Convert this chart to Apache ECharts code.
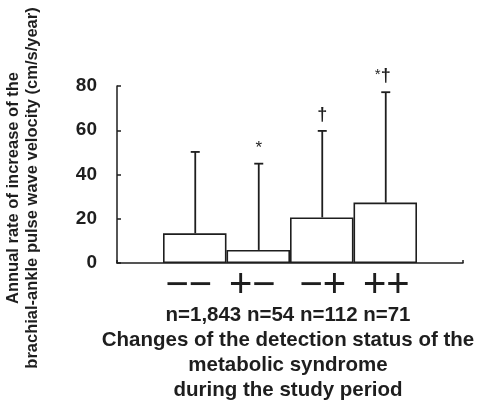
<!DOCTYPE html>
<html><head><meta charset="utf-8">
<script src="https://cdn.jsdelivr.net/npm/echarts@6/dist/echarts.min.js"></script>
<style>html,body{margin:0;padding:0;background:#fff}#c{width:485px;height:404px}</style>
</head><body><div id="c"></div>
<script>
// ---- data ----
const categories = ['−−', '+−', '−+', '++'];
const meanValues = [13.4, 5.9, 20.6, 27.3];
const errorTops = [50.2, 44.9, 59.7, 77.2];
const significance = ['', '*', '†', '*†'];
const groupSizes = ['n=1,843', 'n=54', 'n=112', 'n=71'];
const yTickValues = [0, 20, 40, 60, 80];
const yTitleLines = ['Annual rate of increase of the', 'brachial-ankle pulse wave velocity (cm/s/year)'];
const xTitleLines = ['Changes of the detection status of the', 'metabolic syndrome', 'during the study period'];

// ---- chart ----
const FONT = 'Liberation Sans, Arial, sans-serif';
const INK = '#1e1e1e';
const chart = echarts.init(document.getElementById('c'), null, {renderer: 'canvas'});

const yMin = yTickValues[0], yMax = yTickValues[yTickValues.length - 1];
const yStep = yTickValues[1] - yTickValues[0];

const errData = categories.map((c, i) => [i, meanValues[i], errorTops[i]]);

chart.setOption({
  animation: false,
  backgroundColor: '#fff',
  grid: [
    {left: 117, right: 22, top: 86, bottom: 141, containLabel: false, outerBoundsMode: 'none'},
    {left: 163, right: 68, top: 86, bottom: 141, containLabel: false, outerBoundsMode: 'none'}
  ],
  xAxis: [
    {
      gridIndex: 0, type: 'value', min: 0, max: 1, interval: 1,
      axisLine: {show: true, lineStyle: {color: INK, width: 1.5}},
      axisTick: {show: true, inside: true, length: 3, lineStyle: {color: INK, width: 1.5}},
      axisLabel: {show: false}, splitLine: {show: false},
      name: [groupSizes.join(' ')].concat(xTitleLines).join('\n'),
      nameLocation: 'middle', nameGap: 39.5,
      nameTextStyle: {fontFamily: FONT, fontSize: 20.5, fontWeight: 'bold', lineHeight: 25, color: INK, padding: [0, 4, 0, 0]}
    },
    {
      gridIndex: 1, type: 'category', data: categories,
      axisLine: {show: false}, axisTick: {show: false}, splitLine: {show: false},
      axisLabel: {
        margin: 3, interval: 0,
        formatter: (v, i) => (i < 2 ? '{l|' + v + '}' : '{r|' + v + '}'),
        rich: {
          l: {fontFamily: FONT, fontSize: 40, color: INK, padding: [0, 12, 0, 0]},
          r: {fontFamily: FONT, fontSize: 40, color: INK, padding: [0, 0, 0, 2]}
        }
      }
    }
  ],
  yAxis: [
    {
      gridIndex: 0, type: 'value', min: yMin, max: yMax, interval: yStep,
      axisLine: {show: true, lineStyle: {color: INK, width: 1.5}},
      axisTick: {show: true, inside: true, length: 4, lineStyle: {color: INK, width: 1.5}},
      axisLabel: {fontFamily: FONT, fontSize: 19, fontWeight: 'bold', color: INK, margin: 20},
      splitLine: {show: false},
      name: yTitleLines.join('\n'), nameLocation: 'middle', nameRotate: 90, nameGap: 75.5,
      nameTextStyle: {fontFamily: FONT, fontSize: 16.5, fontWeight: 'bold', lineHeight: 19, color: INK, padding: [0, 27, 0, 0]}
    },
    {gridIndex: 1, type: 'value', min: yMin, max: yMax, show: false}
  ],
  series: [
    {
      type: 'bar', xAxisIndex: 1, yAxisIndex: 1, data: meanValues,
      barWidth: '100%', barCategoryGap: 0,
      itemStyle: {color: '#fff', borderColor: INK, borderWidth: 1.6},
      z: 2
    },
    {
      type: 'custom', xAxisIndex: 1, yAxisIndex: 1, data: errData, z: 3,
      renderItem: function (params, api) {
        const idx = api.value(0);
        const x = api.coord([idx, 0])[0] + 0.5;
        const yb = api.coord([idx, api.value(1)])[1];
        const yt = api.coord([idx, api.value(2)])[1];
        const half = 4.5;
        const mark = significance[params.dataIndex];
        const children = [
          {type: 'line', shape: {x1: x, y1: yb, x2: x, y2: yt}, style: {stroke: INK, lineWidth: 1.8}},
          {type: 'line', shape: {x1: x - half, y1: yt, x2: x + half, y2: yt}, style: {stroke: INK, lineWidth: 1.8}}
        ];
        if (mark) {
          let txt;
          if (mark === '*†') txt = '{s|*}{d|†}';
          else if (mark === '*') txt = '{s1|*}';
          else txt = '{d|†}';
          children.push({
            type: 'text', x: x - (mark === '*†' ? 3 : 0), y: yt - 7,
            style: {
              text: txt, align: 'center', verticalAlign: 'bottom',
              rich: {
                s: {fontFamily: FONT, fontSize: 15, fill: INK, color: INK, verticalAlign: 'top'},
                s1: {fontFamily: FONT, fontSize: 17, fill: INK, color: INK},
                d: {fontFamily: FONT, fontSize: 18, fontWeight: 'bold', fill: INK, color: INK}
              }
            }
          });
        }
        return {type: 'group', children: children};
      }
    }
  ]
});
</script>
</body></html>
